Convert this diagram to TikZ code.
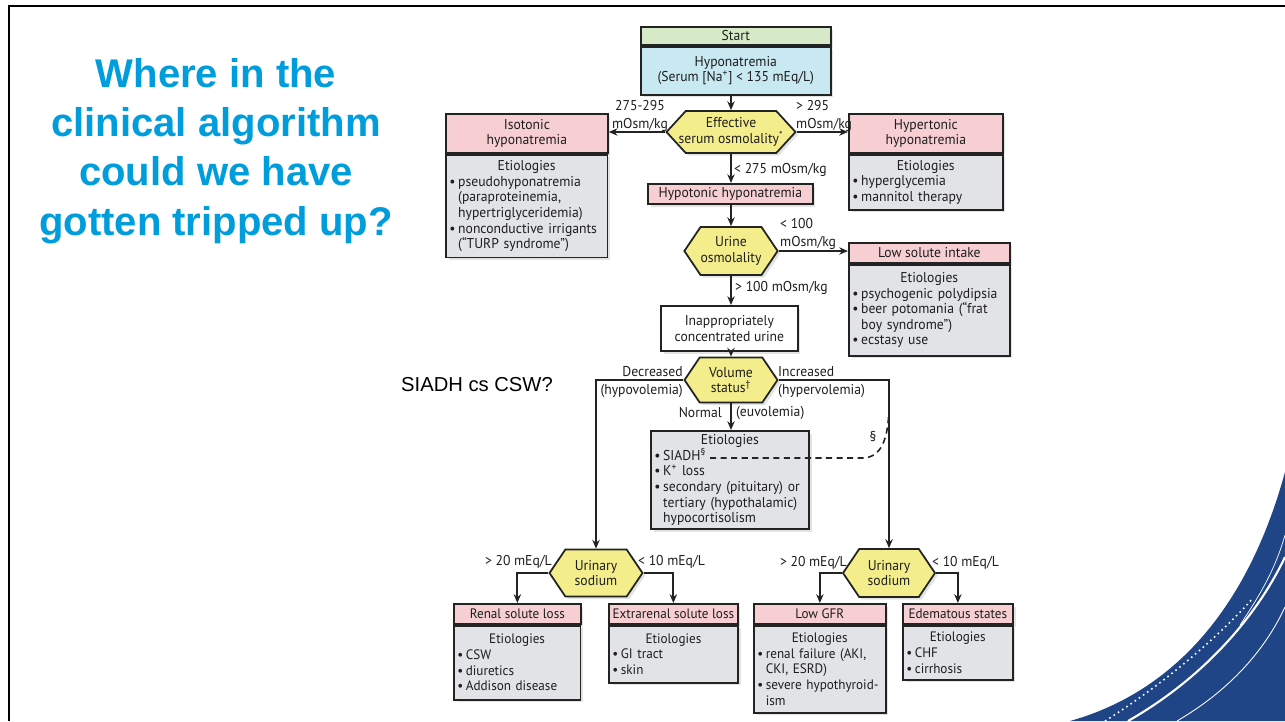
\documentclass[tikz,border=0pt]{standalone}
\usepackage{fontspec}
\setmainfont{Liberation Sans}
\newfontfamily\chartfont[FakeStretch=0.96]{PT Sans}
\usetikzlibrary{arrows.meta,shapes.symbols,shadows}
\definecolor{titleblue}{RGB}{0,157,220}
\definecolor{startgreen}{RGB}{214,234,200}
\definecolor{hypoblue}{RGB}{200,232,242}
\definecolor{hdrpink}{RGB}{247,206,210}
\definecolor{bodygrey}{RGB}{225,227,231}
\definecolor{hexyellow}{RGB}{243,237,140}
\definecolor{edge}{RGB}{35,35,35}
\definecolor{ink}{RGB}{30,30,30}
\definecolor{swoosh}{RGB}{31,69,135}
\def\bul{\par\leftskip=0.62em\noindent\llap{\makebox[0.62em][l]{\textbullet}}}
\def\etiohead{\centering Etiologies\par\raggedright}
\tikzset{
  chart/.style={font={\chartfont\fontsize{8.1}{8.9}\selectfont\parindent=0pt}, text=ink},
  lowrow/.style={font={\chartfont\fontsize{7.8}{8.9}\selectfont\parindent=0pt}},
  boxshadow/.style={drop shadow={opacity=0.22, shadow xshift=1.5pt, shadow yshift=-1.5pt}},
  hdr/.style={chart, draw=edge, line width=1pt, fill=hdrpink, align=center,
    inner sep=1pt, anchor=north west, minimum width=#1, boxshadow},
  etio/.style={chart, draw=edge, line width=1pt, fill=bodygrey, anchor=north west,
    inner xsep=2pt, inner ysep=2pt, text width=#1, boxshadow},
  hexa/.style={chart, signal, signal to=east and west, signal pointer angle=112,
    draw=edge, line width=1pt, fill=hexyellow, align=center, inner sep=0pt, boxshadow},
  lbl/.style={font={\chartfont\fontsize{8.1}{10}\selectfont}, text=ink, inner sep=0.5pt},
  flow/.style={->, line width=1pt, draw=edge},
  dashlink/.style={line width=0.9pt, draw=edge, dash pattern=on 3.5pt off 2.5pt}
}
\begin{document}
\begin{tikzpicture}[x=0.02cm, y=-0.02cm, >={Stealth[length=5pt,width=4.2pt]}]
		%%%%% START %%%%%
		\useasboundingbox (0,0) rectangle (1285,721);
		\fill[white] (0,0) rectangle (1285,721);
		
		% corner swoosh
		\fill[swoosh] (1285,472) .. controls (1250,600) and (1180,690) .. (1070,721) -- (1285,721) -- cycle;
		\draw[white, line width=1.2pt] (1128,721) .. controls (1200,680) and (1255,620) .. (1285,557);
		\draw[white, line width=0.5pt] (1177,721) .. controls (1230,690) and (1265,650) .. (1285,607);
		\draw[white, line width=0.4pt] (1240,625) .. controls (1260,595) and (1275,570) .. (1285,535);
		\draw[white, line width=0.9pt, dotted] (1105,721) .. controls (1170,680) and (1225,630) .. (1253,598);
		
		% question
		\node[font=\fontsize{22.8}{27.9}\selectfont\bfseries, text=titleblue, align=center, anchor=base, inner sep=0pt] (question) at (216,235) {Where in the\\clinical algorithm\\could we have\\gotten tripped up?};
		\node[font=\fontsize{11.5}{13}\selectfont, inner sep=0pt] (vsq) at (477,385) {SIADH cs CSW?};
		
		% top of the chart
		\node[hdr=3.8cm, fill=startgreen, minimum height=0.36cm] (start) at (640,26) {Start};
		\node[hdr=3.8cm, fill=hypoblue, minimum height=0.96cm] (hypo) at (start.south west) {Hyponatremia\\(Serum [Na\textsuperscript{+}] < 135 mEq/L)};
		\node[hexa, minimum width=2.5cm, minimum height=0.84cm, signal pointer angle=95, inner xsep=-4pt] (eff) at (731,132) {Effective\\serum osmolality\textsuperscript{*}};
		
		\node[hdr=3.24cm, minimum height=0.78cm] (isoH) at (445,113) {Isotonic\\hyponatremia};
		\node[etio=88pt, minimum height=2.06cm] (isoE) at (isoH.south west) {\etiohead\bul pseudohyponatremia\newline(paraproteinemia,\newline hypertriglyceridemia)\bul nonconductive~irrigants\newline(“TURP syndrome”)\par};
		
		\node[hdr=3.08cm, minimum height=0.78cm] (hyperH) at (848,113) {Hypertonic\\hyponatremia};
		\node[etio=83.5pt, minimum height=1.1cm] (hyperE) at (hyperH.south west) {\etiohead\bul hyperglycemia\bul mannitol therapy\par};
		
		\node[hdr=3.3cm, minimum height=0.4cm] (hypot) at (647,183) {Hypotonic hyponatremia};
		\node[hexa, minimum width=1.84cm, minimum height=0.96cm] (urine) at (731,251) {Urine\\osmolality};
		
		\node[hdr=3.22cm, minimum height=0.4cm] (lowH) at (848,242) {Low solute intake};
		\node[etio=87.5pt, minimum height=1.82cm] (lowE) at (lowH.south west) {\etiohead\bul psychogenic~polydipsia\bul beer potomania (“frat\newline boy syndrome”)\bul ecstasy use\par};
		
		\node[hdr=2.74cm, fill=white, minimum height=0.9cm] (inapp) at (660,305) {Inappropriately\\concentrated urine};
		\node[hexa, minimum width=1.86cm, minimum height=0.9cm] (vol) at (731,380) {Volume\\status\textsuperscript{\dag}};
		
		\node[etio=86pt, minimum height=1.94cm] (siadh) at (650,430) {\etiohead\bul SIADH\textsuperscript{\S}\bul K\textsuperscript{+} loss\bul secondary~(pituitary)~or\newline tertiary~(hypothalamic)\newline hypocortisolism\par};
		
		% urinary sodium branches
		\node[hexa, minimum width=1.86cm, minimum height=0.94cm] (naL) at (596,573) {Urinary\\sodium};
		\node[hexa, minimum width=1.84cm, minimum height=0.96cm] (naR) at (889,573) {Urinary\\sodium};
		
		\node[hdr=2.54cm, lowrow, minimum height=0.4cm] (renalH) at (453,603) {Renal solute loss};
		\node[etio=68pt, lowrow, minimum height=1.48cm] (renalE) at (renalH.south west) {\etiohead\bul CSW\bul diuretics\bul Addison~disease\par};
		\node[hdr=2.58cm, lowrow, minimum height=0.4cm] (extraH) at (608,603) {Extrarenal solute loss};
		\node[etio=69.5pt, lowrow, minimum height=1.14cm] (extraE) at (extraH.south west) {\etiohead\bul GI tract\bul skin\par};
		\node[hdr=2.64cm, lowrow, minimum height=0.4cm] (gfrH) at (753,603) {Low GFR};
		\node[etio=71pt, lowrow, minimum height=1.74cm] (gfrE) at (gfrH.south west) {\etiohead\bul \mbox{renal failure (AKI,}\newline CKI, ESRD)\bul \mbox{severe hypothyroid-}\newline ism\par};
		\node[hdr=2.2cm, lowrow, minimum height=0.4cm] (edemaH) at (902,603) {Edematous states};
		\node[etio=58.5pt, lowrow, minimum height=1.08cm] (edemaE) at (edemaH.south west) {\etiohead\bul CHF\bul cirrhosis\par};
		
		% branch labels
		\node[lbl, align=center] (l275) at (640,116) {275-295\\mOsm/kg};
		\node[lbl, align=left, anchor=west] (l295) at (795,116) {> 295\\mOsm/kg};
		\node[lbl, anchor=west] (lless275) at (733,170) {< 275 mOsm/kg};
		\node[lbl, align=left, anchor=west] (lless100) at (779,234) {< 100\\mOsm/kg};
		\node[lbl, anchor=west] (lmore100) at (734,288) {> 100 mOsm/kg};
		\node[lbl, align=right, anchor=east] (ldec) at (684,382) {Decreased\\(hypovolemia)};
		\node[lbl, align=left, anchor=west] (linc) at (777,382) {Increased\\(hypervolemia)};
		\node[lbl, anchor=east] (lnorm) at (723,413) {Normal};
		\node[lbl, anchor=west] (leuvo) at (735,413) {(euvolemia)};
		\node[lbl] (lsect) at (873,437) {\S};
		\node[lbl, anchor=east] (lL20) at (553,562) {> 20 mEq/L};
		\node[lbl, anchor=west] (lL10) at (637,562) {< 10 mEq/L};
		\node[lbl, anchor=east] (lR20) at (848,563) {> 20 mEq/L};
		\node[lbl, anchor=west] (lR10) at (931,563) {< 10 mEq/L};
		
		% connectors
		\draw[flow] (hypo.south -| eff.north) -- (eff.north);
		\draw[flow] (eff.west) -- (eff.west -| isoH.east);
		\draw[flow] (eff.east) -- (eff.east -| hyperH.west);
		\draw[flow] (eff.south) -- (eff.south |- hypot.north);
		\draw[flow] (hypot.south -| urine.north) -- (urine.north);
		\draw[flow] (urine.east) -- (urine.east -| lowH.west);
		\draw[flow] (urine.south) -- (urine.south |- inapp.north);
		\draw[flow] (inapp.south -| vol.north) -- (vol.north);
		\draw[flow] (vol.west) -| (naL.north);
		\draw[flow] (vol.east) -| (naR.north);
		\draw[flow] (vol.south) -- (vol.south |- siadh.north);
		\draw[flow] (naL.west) -| (renalH.north);
		\draw[flow] (naL.east) -| (extraH.north);
		\draw[flow] (naR.west) -| (gfrH.north);
		\draw[flow] (naR.east) -| (edemaH.north);
		
		\coordinate (siadhEnd) at (710,458);
		\coordinate (hyperJoin) at (889,403);
		\draw[dashlink] (siadhEnd) -- (862,458) .. controls (881,458) and (889,440) .. (hyperJoin);
		
		% slide frame
		\draw[line width=1.7pt] (9,721) -- (9,6) -- (1285,6);
		%%%%% END %%%%%
	\end{tikzpicture}
\end{document}
